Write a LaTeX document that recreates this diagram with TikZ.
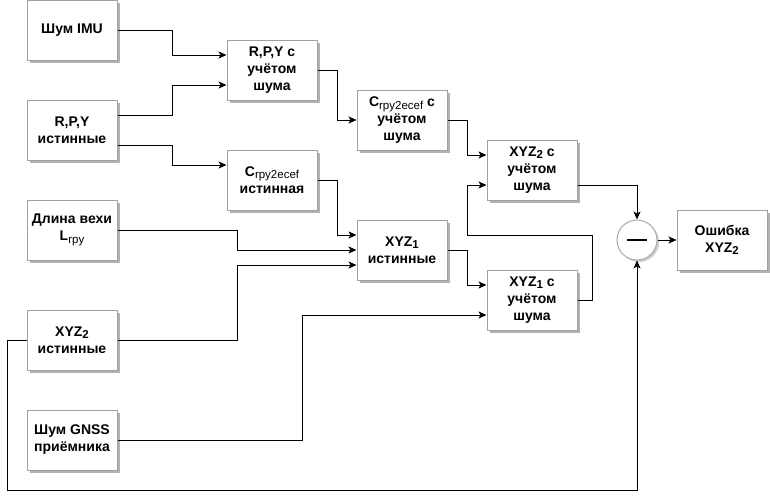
\documentclass[tikz,border=0pt]{standalone}
\usepackage{fontspec}
\setmainfont{Liberation Sans}
\usetikzlibrary{arrows.meta,shadows,calc}
\newcommand{\sbr}[1]{\raisebox{-0.35ex}{\fontsize{11.5}{12}\selectfont\mdseries #1}}
\newcommand{\sbb}[1]{\raisebox{-0.35ex}{\fontsize{11.5}{12}\selectfont\bfseries #1}}
\tikzset{
  blk/.style={draw={rgb,255:red,160;green,160;blue,160}, fill=white, line width=1pt,
    minimum width=90pt, minimum height=60pt, inner sep=1pt, align=center,
    font=\fontsize{14}{17}\selectfont\bfseries,
    drop shadow={shadow xshift=3pt, shadow yshift=-3pt, fill=black!30, opacity=1}},
  sumc/.style={circle, draw={rgb,255:red,170;green,170;blue,170}, fill=white, line width=1pt,
    minimum size=40pt, inner sep=0pt,
    drop shadow={shadow xshift=2pt, shadow yshift=-2pt, fill=black!20, opacity=1}},
  arr/.style={line width=1pt, -{Stealth[length=8pt,width=7pt,inset=2pt]}}
}
\begin{document}
\begin{tikzpicture}[x=1pt,y=-1pt]
\useasboundingbox (0,0) rectangle (770,499);
\node[blk] (imu) at (72,30) {Шум IMU};
\node[blk] (rpyt) at (72,130) {R,P,Y\\истинные};
\node[blk] (len) at (72,230) {Длина вехи\\L\sbr{rpy}};
\node[blk] (xyz2t) at (72,340) {XYZ\sbb{2}\\истинные};
\node[blk] (gnss) at (72,440) {Шум GNSS\\приёмника};
\node[blk] (rpyn) at (272,70) {R,P,Y с\\учётом\\шума};
\node[blk] (ct) at (272,180) {C\sbr{rpy2ecef}\\истинная};
\node[blk] (cn) at (402,120) {C\sbr{rpy2ecef} с\\учётом\\шума};
\node[blk] (xyz1t) at (402,250) {XYZ\sbb{1}\\истинные};
\node[blk] (xyz2n) at (532,170) {XYZ\sbb{2} с\\учётом\\шума};
\node[blk] (xyz1n) at (532,300) {XYZ\sbb{1} с\\учётом\\шума};
\node[sumc] (sum) at (637,240) {\rule{20pt}{2pt}};
\node[blk] (err) at (722,240) {Ошибка\\XYZ\sbb{2}};
\coordinate (loop) at (467,235);
\coordinate (low) at (7,490);

\draw[arr] (imu.east) -- ++(55,0) |- ([yshift=15pt]rpyn.west);
\draw[arr] ([yshift=15pt]rpyt.east) -- ++(55,0) |- ([yshift=-15pt]rpyn.west);
\draw[arr] ([yshift=-15pt]rpyt.east) -- ++(55,0) |- ([yshift=15pt]ct.west);
\draw[arr] (rpyn.east) -- ++(20,0) |- (cn.west);
\draw[arr] (cn.east) -- ++(20,0) |- ([yshift=15pt]xyz2n.west);
\draw[arr] (ct.east) -- ++(20,0) |- ([yshift=15pt]xyz1t.west);
\draw[arr] (len.east) -- ++(120,0) |- (xyz1t.west);
\draw[arr] (xyz2t.east) -- ++(120,0) |- ([yshift=-15pt]xyz1t.west);
\draw[arr] (xyz1t.east) -- ++(20,0) |- ([yshift=15pt]xyz1n.west);
\draw[arr] (gnss.east) -- ++(185,0) |- ([yshift=-15pt]xyz1n.west);
\draw[arr] (xyz1n.east) -- ++(15,0) |- (loop) |- ([yshift=-15pt]xyz2n.west);
\draw[arr] ([yshift=-15pt]xyz2n.east) -| (sum.north);
\draw[arr] (xyz2t.west) -| (low) -| (sum.south);
\draw[arr] (sum.east) -- (err.west);
\end{tikzpicture}
\end{document}
